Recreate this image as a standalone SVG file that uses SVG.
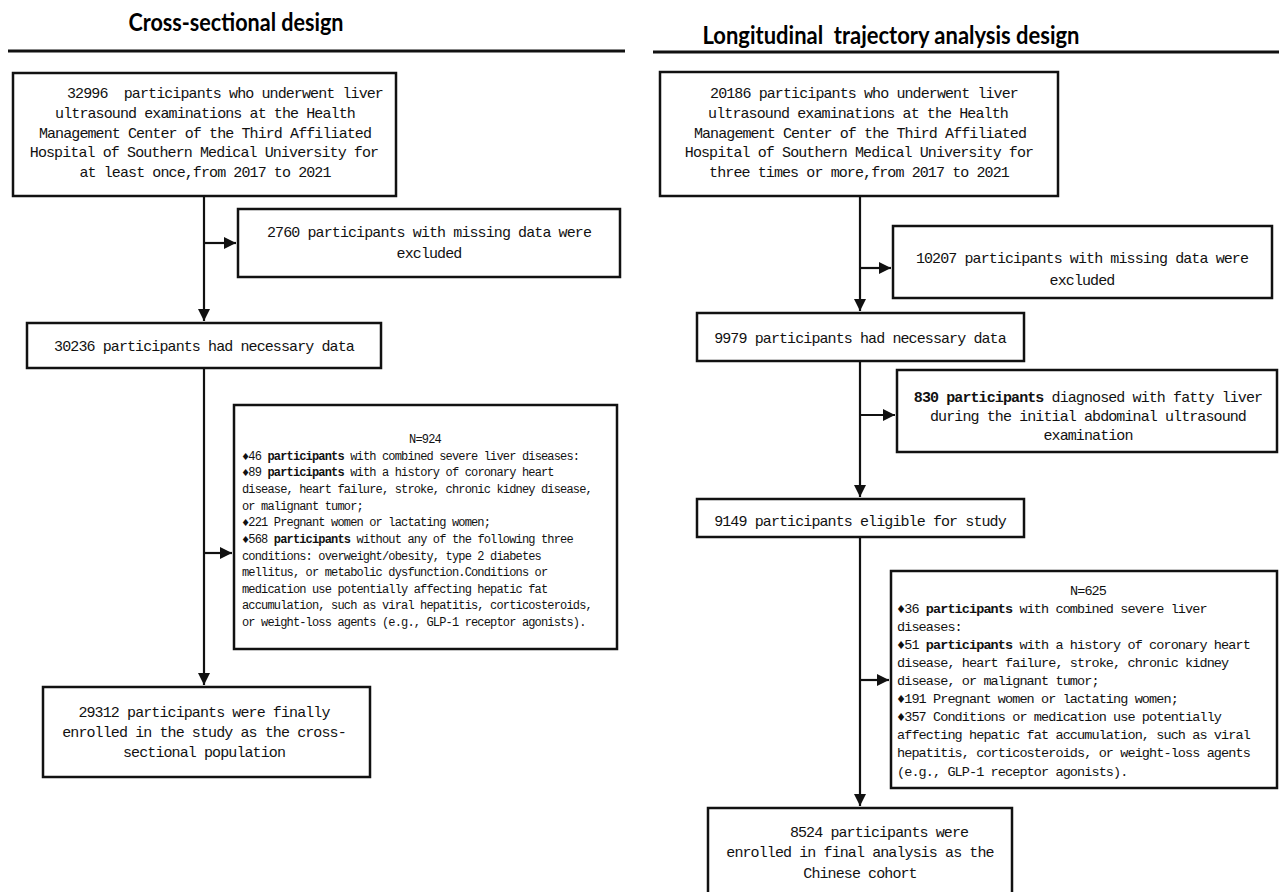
<svg xmlns="http://www.w3.org/2000/svg" width="1279" height="892" viewBox="0 0 1279 892">
<defs>
<style>
.bx{fill:#fff;stroke:#111;stroke-width:2.5}
.t{font-family:"Liberation Mono","DejaVu Sans Mono",monospace;font-size:15px;letter-spacing:-0.9px;fill:#111;text-anchor:middle}
.s{font-family:"Liberation Mono","DejaVu Sans Mono",monospace;font-size:12px;letter-spacing:-0.84px;fill:#111}
.m{font-family:"Liberation Mono","DejaVu Sans Mono",monospace;font-size:13.5px;letter-spacing:-0.9px;fill:#111}
.b{font-weight:bold}
.h{font-family:Lato,"Liberation Sans",sans-serif;font-weight:bold;font-size:25px;fill:#000;text-anchor:middle}
.c{fill:none;stroke:#111;stroke-width:2.2}
.hl{stroke:#111;stroke-width:3}
</style>
<marker id="ah" markerUnits="userSpaceOnUse" markerWidth="12" markerHeight="12" refX="12" refY="6" orient="auto">
<path d="M0,0 L12,6 L0,12 z" fill="#111"/>
</marker>
</defs>
<rect width="1279" height="892" fill="#fff"/>

<g id="headers">
<text class="h" x="236" y="31" textLength="215" lengthAdjust="spacingAndGlyphs">Cross-sectional design</text>
<line class="hl" x1="8" y1="51" x2="625" y2="51"/>
<text class="h" x="891" y="44" textLength="377" lengthAdjust="spacingAndGlyphs" xml:space="preserve">Longitudinal  trajectory analysis design</text>
<line class="hl" x1="653" y1="52" x2="1279" y2="52"/>
</g>

<g id="connectors">
<path class="c" d="M204 196 V321" marker-end="url(#ah)"/>
<path class="c" d="M204 243 H236" marker-end="url(#ah)"/>
<path class="c" d="M204 368 V685" marker-end="url(#ah)"/>
<path class="c" d="M204 553 H232" marker-end="url(#ah)"/>
<path class="c" d="M860 196 V311" marker-end="url(#ah)"/>
<path class="c" d="M860 268 H891" marker-end="url(#ah)"/>
<path class="c" d="M860 361 V497" marker-end="url(#ah)"/>
<path class="c" d="M860 415 H895" marker-end="url(#ah)"/>
<path class="c" d="M860 537 V806" marker-end="url(#ah)"/>
<path class="c" d="M860 680 H889" marker-end="url(#ah)"/>
</g>

<g id="L1">
<rect class="bx" x="13" y="73" width="383" height="123"/>
<text class="t" x="225" y="98" xml:space="preserve">32996  participants who underwent liver</text>
<text class="t" x="205" y="118">ultrasound examinations at the Health</text>
<text class="t" x="205" y="138">Management Center of the Third Affiliated</text>
<text class="t" x="204" y="157">Hospital of Southern Medical University for</text>
<text class="t" x="205" y="177">at least once,from 2017 to 2021</text>
</g>

<g id="L2">
<rect class="bx" x="238" y="209" width="382" height="68"/>
<text class="t" x="429" y="237">2760 participants with missing data were</text>
<text class="t" x="429" y="258">excluded</text>
</g>

<g id="L3">
<rect class="bx" x="27" y="323" width="354" height="45"/>
<text class="t" x="204" y="351">30236 participants had necessary data</text>
</g>

<g id="L4">
<rect class="bx" x="234" y="405" width="383" height="244"/>
<text class="s" x="425" y="443" style="text-anchor:middle">N=924</text>
<text class="s" x="242" y="460">♦46 <tspan class="b">participants</tspan> with combined severe liver diseases:</text>
<text class="s" x="242" y="476">♦89 <tspan class="b">participants</tspan> with a history of coronary heart</text>
<text class="s" x="242" y="493">disease, heart failure, stroke, chronic kidney disease,</text>
<text class="s" x="242" y="510">or malignant tumor;</text>
<text class="s" x="242" y="526">♦221 Pregnant women or lactating women;</text>
<text class="s" x="242" y="543">♦568 <tspan class="b">participants</tspan> without any of the following three</text>
<text class="s" x="242" y="560">conditions: overweight/obesity, type 2 diabetes</text>
<text class="s" x="242" y="576">mellitus, or metabolic dysfunction.Conditions or</text>
<text class="s" x="242" y="593">medication use potentially affecting hepatic fat</text>
<text class="s" x="242" y="609">accumulation, such as viral hepatitis, corticosteroids,</text>
<text class="s" x="242" y="626">or weight-loss agents (e.g., GLP-1 receptor agonists).</text>
</g>

<g id="L5">
<rect class="bx" x="43" y="687" width="327" height="90"/>
<text class="t" x="204" y="717">29312 participants were finally</text>
<text class="t" x="204" y="737">enrolled in the study as the cross-</text>
<text class="t" x="204" y="757">sectional population</text>
</g>

<g id="R1">
<rect class="bx" x="660" y="72" width="398" height="124"/>
<text class="t" x="864" y="98">20186 participants who underwent liver</text>
<text class="t" x="858" y="118">ultrasound examinations at the Health</text>
<text class="t" x="860" y="138">Management Center of the Third Affiliated</text>
<text class="t" x="859" y="157">Hospital of Southern Medical University for</text>
<text class="t" x="859" y="177">three times or more,from 2017 to 2021</text>
</g>

<g id="R2">
<rect class="bx" x="893" y="226" width="379" height="72"/>
<text class="t" x="1082" y="263">10207 participants with missing data were</text>
<text class="t" x="1082" y="285">excluded</text>
</g>

<g id="R3">
<rect class="bx" x="697" y="313" width="327" height="48"/>
<text class="t" x="860" y="343">9979 participants had necessary data</text>
</g>

<g id="R4">
<rect class="bx" x="897" y="370" width="380" height="82"/>
<text class="t" x="1088" y="402"><tspan class="b">830 participants</tspan> diagnosed with fatty liver</text>
<text class="t" x="1088" y="421">during the initial abdominal ultrasound</text>
<text class="t" x="1088" y="440">examination</text>
</g>

<g id="R5">
<rect class="bx" x="697" y="499" width="327" height="38"/>
<text class="t" x="860" y="526">9149 participants eligible for study</text>
</g>

<g id="R6">
<rect class="bx" x="891" y="571" width="386" height="217"/>
<text class="m" x="1088" y="595" style="text-anchor:middle">N=625</text>
<text class="m" x="897" y="613">♦36 <tspan class="b">participants</tspan> with combined severe liver</text>
<text class="m" x="897" y="631">diseases:</text>
<text class="m" x="897" y="649">♦51 <tspan class="b">participants</tspan> with a history of coronary heart</text>
<text class="m" x="897" y="667">disease, heart failure, stroke, chronic kidney</text>
<text class="m" x="897" y="685">disease, or malignant tumor;</text>
<text class="m" x="897" y="703">♦191 Pregnant women or lactating women;</text>
<text class="m" x="897" y="721">♦357 Conditions or medication use potentially</text>
<text class="m" x="897" y="739">affecting hepatic fat accumulation, such as viral</text>
<text class="m" x="897" y="757">hepatitis, corticosteroids, or weight-loss agents</text>
<text class="m" x="897" y="776">(e.g., GLP-1 receptor agonists).</text>
</g>

<g id="R7">
<rect class="bx" x="708" y="808" width="304" height="90"/>
<text class="t" x="879" y="837">8524 participants were</text>
<text class="t" x="860" y="857">enrolled in final analysis as the</text>
<text class="t" x="860" y="878">Chinese cohort</text>
</g>
</svg>
